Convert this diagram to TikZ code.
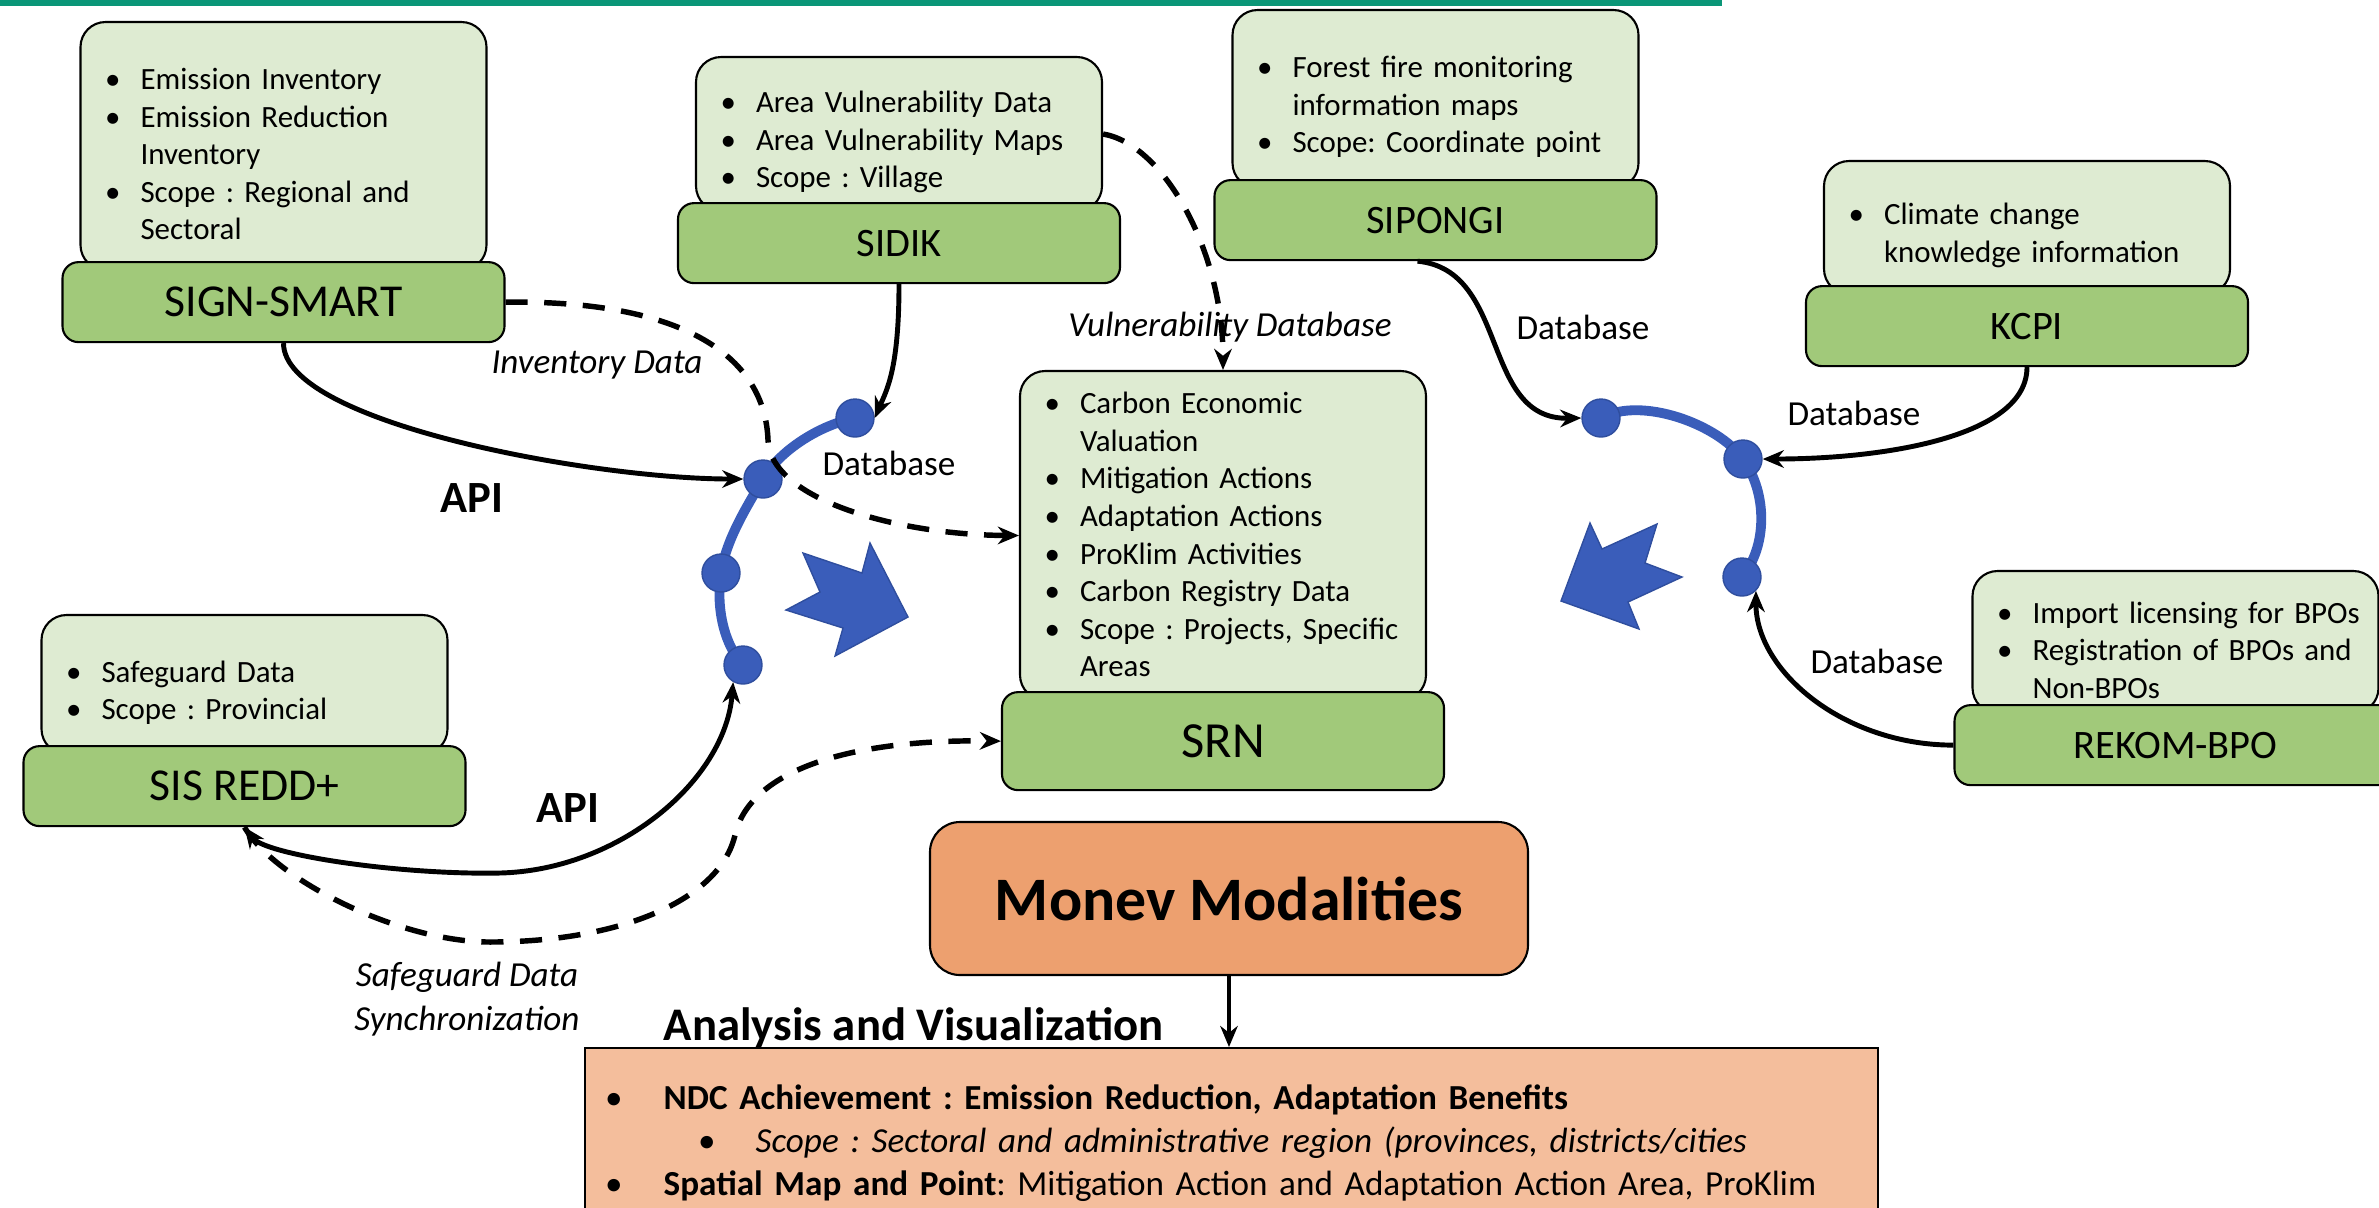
\documentclass[tikz,border=0pt]{standalone}
\usepackage{fontspec}
\setmainfont{Carlito}
\usepackage{enumitem}
\usetikzlibrary{arrows.meta, positioning}

\definecolor{infogreen}{HTML}{DEEBD2}
\definecolor{bargreen}{HTML}{A1C97A}
\definecolor{hubblue}{HTML}{3A5DBA}
\definecolor{hubedge}{HTML}{2F4E9E}
\definecolor{monevorange}{HTML}{EDA06F}
\definecolor{anaorange}{HTML}{F4BE9C}
\definecolor{topteal}{HTML}{0A9677}

\frenchspacing
\setlist[itemize]{nosep, label = \textbullet, leftmargin = 4.4mm, labelsep = 2mm}

\tikzset{
	infobox/.style = {draw, fill = infogreen, rounded corners = 2.5mm, line width = 0.6pt, align = left,
		text width = 37.4mm, inner xsep = 1.6mm, inner ysep = 0.5mm, font = \fontsize{8.8}{10.7}\selectfont},
	sysbar/.style = {draw, fill = bargreen, rounded corners = 1.6mm, line width = 0.6pt,
		minimum width = 44.2mm, minimum height = 8mm, font = \fontsize{11.5}{13}\selectfont},
	hub/.style = {circle, draw = hubedge, fill = hubblue, minimum size = 3.8mm, inner sep = 0pt},
	hubarc/.style = {draw = hubblue, line width = 2.8pt},
	link/.style = {->, line width = 1.4pt},
	dashlink/.style = {link, line width = 1.55pt, dash pattern = on 6.3pt off 4.7pt},
	tag/.style = {font = \fontsize{10}{12.5}\selectfont},
	slanttag/.style = {font = \itshape\fontsize{10}{12.5}\selectfont},
	apitag/.style = {font = \bfseries\fontsize{12.7}{15}\selectfont}
}

\begin{document}
\begin{tikzpicture}[> = {Stealth[length = 6pt, width = 5pt]}, x = 0.1mm, y = -0.1mm]

% Page

\clip (0, 0) rectangle (2379, 1207);
\fill [topteal] (0, 0) rectangle (1722, 6);

% Data systems

\node [infobox, minimum height = 24.8mm] (signinfo) at (283.5, 146) {
	\begin{itemize}
		\item Emission Inventory
		\item Emission Reduction\newline Inventory
		\item Scope : Regional and\newline Sectoral
	\end{itemize}};
\node [sysbar, below = -1mm of signinfo, font = \fontsize{13}{15}\selectfont] (sign) {SIGN-SMART};

\node [infobox, minimum height = 15.4mm] (sidikinfo) at (899, 134) {
	\begin{itemize}
		\item Area Vulnerability Data
		\item Area Vulnerability Maps
		\item Scope : Village
	\end{itemize}};
\node [sysbar, below = -1mm of sidikinfo] (sidik) {SIDIK};

\node [infobox, minimum height = 17.8mm] (sipongiinfo) at (1435.5, 99) {
	\begin{itemize}
		\item Forest fire monitoring\newline information maps
		\item Scope: Coordinate point
	\end{itemize}};
\node [sysbar, below = -1mm of sipongiinfo] (sipongi) {SIPONGI};

\node [infobox, minimum height = 13.3mm] (kcpiinfo) at (2027, 227.5) {
	\begin{itemize}
		\item Climate change\newline knowledge information
	\end{itemize}};
\node [sysbar, below = -1mm of kcpiinfo] (kcpi) {KCPI};

\node [infobox, minimum height = 32.9mm] (srninfo) at (1223, 535.5) {};
\node [infobox, draw = none, fill = none] (srnlist) at ([yshift = 0.9mm]srninfo.center) {
	\begin{itemize}
		\item Carbon Economic\newline Valuation
		\item Mitigation Actions
		\item Adaptation Actions
		\item ProKlim Activities
		\item Carbon Registry Data
		\item Scope : Projects, Specific\newline Areas
	\end{itemize}};
\node [sysbar, below = -1mm of srninfo, minimum height = 9.8mm, font = \fontsize{14.4}{16}\selectfont] (srn) {SRN};

\node [infobox, minimum height = 13.9mm] (sisinfo) at (244.5, 684.5) {
	\begin{itemize}
		\item Safeguard Data
		\item Scope : Provincial
	\end{itemize}};
\node [sysbar, below = -1mm of sisinfo, font = \fontsize{13}{15}\selectfont] (sis) {SIS REDD+};

\node [infobox, minimum height = 14.2mm] (rekominfo) at (2175.5, 642) {
	\begin{itemize}
		\item Import licensing for BPOs
		\item Registration of BPOs and\newline Non-BPOs
	\end{itemize}};
\node [sysbar, below = -1mm of rekominfo] (rekom) {REKOM-BPO};

% Monitoring and evaluation

\node [draw, fill = monevorange, rounded corners = 3mm, line width = 0.6pt, minimum width = 59.8mm,
	minimum height = 15.3mm, font = \bfseries\fontsize{17.6}{20}\selectfont] (monev) at (1229, 898.5) {Monev Modalities};

\node [draw, fill = anaorange, line width = 0.6pt, anchor = north west, minimum width = 129.3mm,
	minimum height = 20mm] (anabox) at (584, 1047) {};
\node [anchor = base west, inner sep = 0pt, font = \bfseries\fontsize{13.3}{15}\selectfont] (anatitle) at (663, 1040) {Analysis and Visualization};
\node [anchor = north west, text width = 127mm, inner sep = 0pt, font = \fontsize{10}{12.2}\selectfont] (analist) at (584, 1066) {
	\begin{itemize}[leftmargin = 7.9mm, labelsep = 4.1mm]
		\item \textbf{NDC Achievement : Emission Reduction, Adaptation Benefits}
		\begin{itemize}[leftmargin = 9.2mm, labelsep = 4mm]
			\item \textit{Scope : Sectoral and administrative region (provinces, districts/cities}
		\end{itemize}
		\item \textbf{Spatial Map and Point}: Mitigation Action and Adaptation Action Area, ProKlim
	\end{itemize}};

\draw [->, line width = 0.9pt] (monev.south) -- (monev.south |- anabox.north);

% Hub arcs

\coordinate (hubL1) at (855, 418);
\coordinate (hubL2) at (763, 479);
\coordinate (hubL3) at (721, 573);
\coordinate (hubL4) at (743, 665);
\coordinate (hubR1) at (1601, 418);
\coordinate (hubR2) at (1743, 459);
\coordinate (hubR3) at (1742, 577);

\draw [hubarc] (hubL1) .. controls +(-35, 7) and +(17, -29) .. (hubL2)
	.. controls +(-17, 29) and +(5, -33) .. (hubL3)
	.. controls +(-5, 33) and +(-20, -22) .. (hubL4);
\draw [hubarc] (hubR1) .. controls +(40, -22) and +(-25, -35) .. (hubR2)
	.. controls +(25, 35) and +(25, -30) .. (hubR3);

\foreach \h in {L1, L2, L3, L4, R1, R2, R3}
	\node [hub] (h\h) at (hub\h) {};

% Notched arrows

\filldraw [fill = hubblue, draw = hubedge, line width = 0.4pt] (803, 553) -- (862, 573) -- (870, 543) -- (908, 617)
	-- (835, 656) -- (843, 628) -- (786, 610) -- (820, 592) -- cycle;
\filldraw [fill = hubblue, draw = hubedge, line width = 0.4pt] (1561, 601) -- (1590, 523) -- (1602, 549) -- (1657, 524)
	-- (1645, 563) -- (1682, 577) -- (1628, 602) -- (1639, 629) -- cycle;

% Connectors

\coordinate (invbend) at (768, 440);
\coordinate (sislow) at (490, 942);
\coordinate (sisturn) at (735, 835);
\coordinate (apilow) at (500, 873);

\draw [link] (sign.south) .. controls +(0, 80) and +(-150, 0) .. (hL2.west);
\draw [dashlink] (sign.east) .. controls (690, 300) and (765, 360) .. (invbend)
	.. controls (770, 500) and (900, 535) .. (srninfo.west);
\draw [link] (sidik.south) .. controls +(0, 85) and +(12, -28) .. (hL1.east);
\draw [dashlink] (sidikinfo.east) .. controls +(60, 10) and +(0, -120) .. (srninfo.north);
\draw [link] ([xshift = -1.8mm]sipongi.south) .. controls (1510, 270) and (1480, 420) .. (hR1.west);
\draw [link] (kcpi.south) .. controls +(0, 70) and +(120, 0) .. (hR2.east);
\draw [link] (rekom.west) .. controls +(-110, 0) and +(0, 80) .. (hR3.south east);
\draw [link, <->] (sis.south) .. controls (265, 855) and (400, 875) .. (apilow)
	.. controls (620, 870) and (725, 780) .. (hL4.-120);
\draw [dashlink] (sis.south) .. controls (275, 880) and (400, 942) .. (sislow)
	.. controls (620, 942) and (720, 900) .. (sisturn)
	.. controls (750, 770) and (850, 739) .. (srn.west);

% Labels

\node [apitag] (apitop) at (472, 498) {API};
\node [apitag] (apibottom) at (568, 808) {API};
\node [slanttag] (invtag) at (597, 365) {Inventory Data};
\node [slanttag] (vultag) at (1230, 327) {Vulnerability Database};
\node [slanttag, align = center] (safetag) at (467, 999) {Safeguard Data\\Synchronization};
\node [tag] (dbsidik) at (889, 463) {Database};
\node [tag] (dbsipongi) at (1583, 327) {Database};
\node [tag] (dbkcpi) at (1854, 413) {Database};
\node [tag] (dbrekom) at (1877, 661) {Database};

\end{tikzpicture}
\end{document}
